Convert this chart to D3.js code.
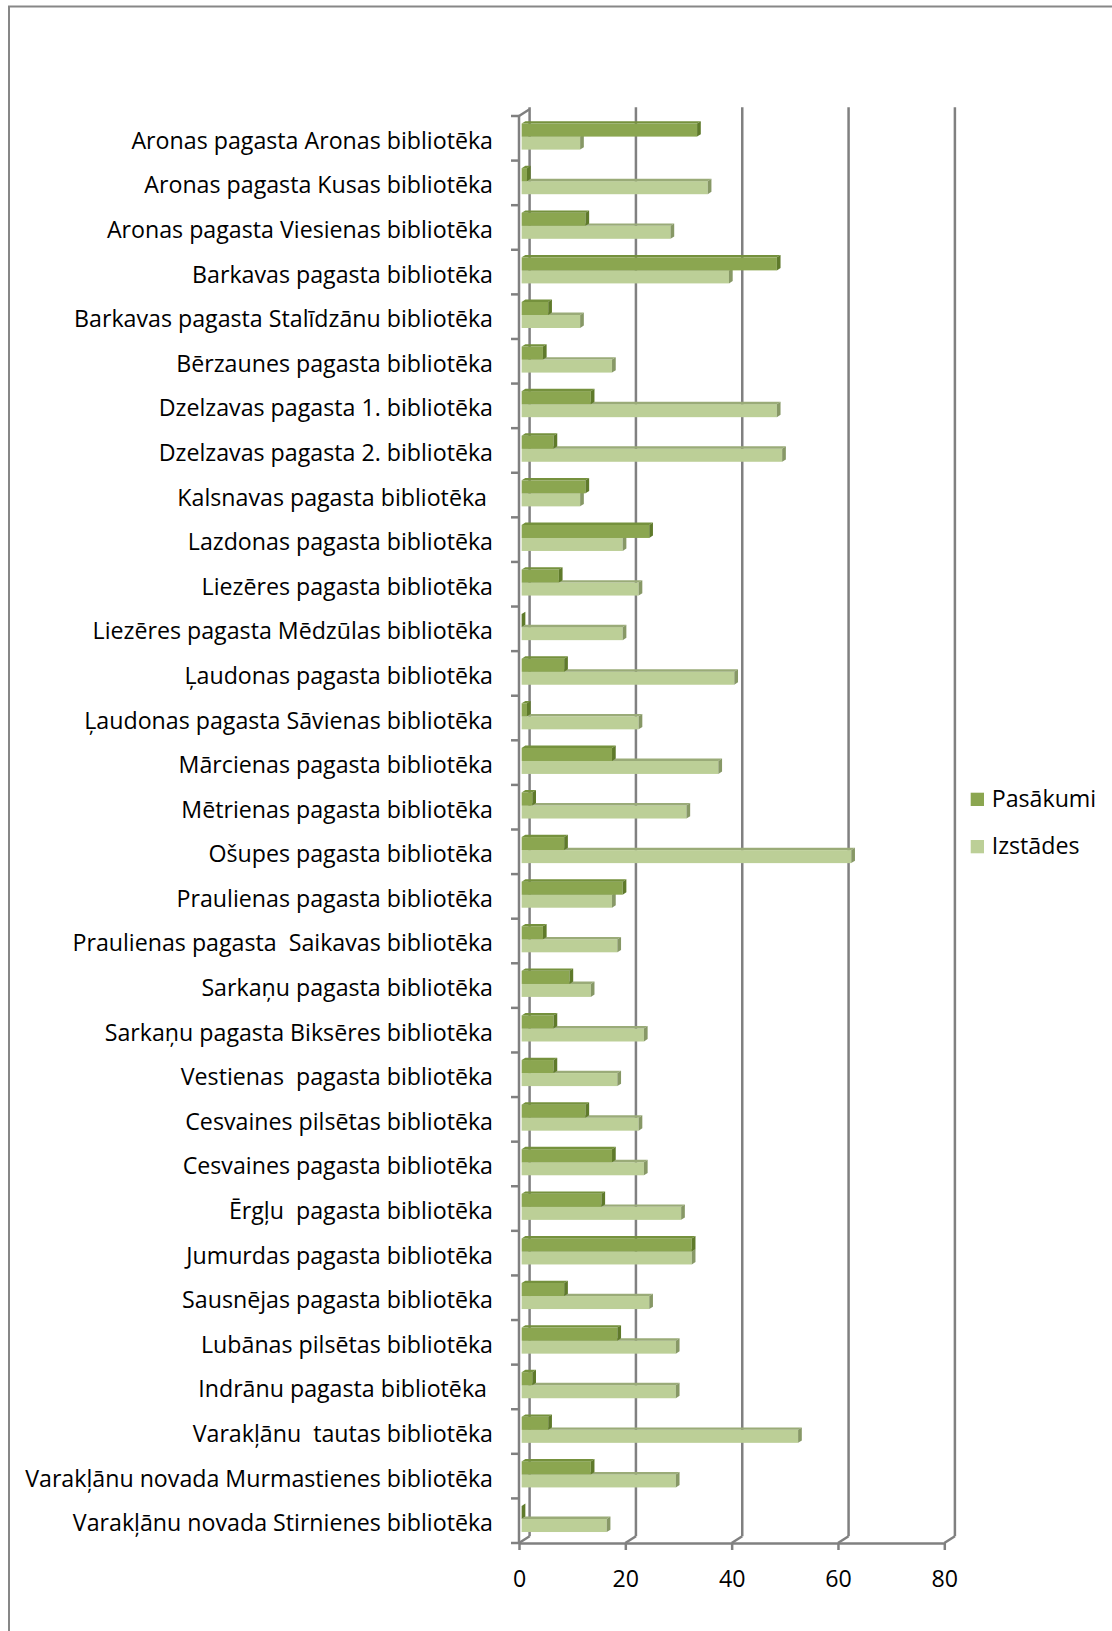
<!DOCTYPE html>
<html>
<head>
<meta charset="utf-8">
<script src="https://cdn.jsdelivr.net/npm/d3@7"></script>
<style>
body { margin: 0; background: #fff; }
text { font-family: "Open Sans", Lato, sans-serif; font-size: 23.2px; fill: #000; }
</style>
</head>
<body>
<script>
// data
var categories = [
    "Aronas pagasta Aronas bibliotēka",
    "Aronas pagasta Kusas bibliotēka",
    "Aronas pagasta Viesienas bibliotēka",
    "Barkavas pagasta bibliotēka",
    "Barkavas pagasta Stalīdzānu bibliotēka",
    "Bērzaunes pagasta bibliotēka",
    "Dzelzavas pagasta 1. bibliotēka",
    "Dzelzavas pagasta 2. bibliotēka",
    "Kalsnavas pagasta bibliotēka ",
    "Lazdonas pagasta bibliotēka",
    "Liezēres pagasta bibliotēka",
    "Liezēres pagasta Mēdzūlas bibliotēka",
    "Ļaudonas pagasta bibliotēka",
    "Ļaudonas pagasta Sāvienas bibliotēka",
    "Mārcienas pagasta bibliotēka",
    "Mētrienas pagasta bibliotēka",
    "Ošupes pagasta bibliotēka",
    "Praulienas pagasta bibliotēka",
    "Praulienas pagasta  Saikavas bibliotēka",
    "Sarkaņu pagasta bibliotēka",
    "Sarkaņu pagasta Biksēres bibliotēka",
    "Vestienas  pagasta bibliotēka",
    "Cesvaines pilsētas bibliotēka",
    "Cesvaines pagasta bibliotēka",
    "Ērgļu  pagasta bibliotēka",
    "Jumurdas pagasta bibliotēka",
    "Sausnējas pagasta bibliotēka",
    "Lubānas pilsētas bibliotēka",
    "Indrānu pagasta bibliotēka ",
    "Varakļānu  tautas bibliotēka",
    "Varakļānu novada Murmastienes bibliotēka",
    "Varakļānu novada Stirnienes bibliotēka"
];
var pasakumi = [33, 1, 12, 48, 5, 4, 13, 6, 12, 24, 7, 0, 8, 1, 17, 2,
                8, 19, 4, 9, 6, 6, 12, 17, 15, 32, 8, 18, 2, 5, 13, 0];
var izstades = [11, 35, 28, 39, 11, 17, 48, 49, 11, 19, 22, 19, 40, 22, 37, 31,
                62, 17, 18, 13, 23, 18, 22, 23, 30, 32, 24, 29, 29, 52, 29, 16];
var seriesNames = ["Pasākumi", "Izstādes"];
var xTicks = [0, 20, 40, 60, 80];

var width = 1112, height = 1631;
var plot = {left: 519, right: 944.3, top: 116, bottom: 1543};
var depth = {dx: 10.6, dy: -6.8};
var f0 = 0.25, f1 = 0.6; // bar front / back position inside the depth
var gridColor = "#808080";
var colors = {
    "Pasākumi": {front: "#8ba650", top: "#75913d", side: "#5f7a2b"},
    "Izstādes": {front: "#bccf97", top: "#9aab78", side: "#879866"}
};

const svg = d3.select("body")
    .append("svg")
    .attr("width", width)
    .attr("height", height);

// outer frame
svg.append("rect")
    .attr("x", 9).attr("y", 6.5)
    .attr("width", 1200).attr("height", 1700)
    .attr("fill", "none")
    .attr("stroke", "#878787")
    .attr("stroke-width", 2);

var xscale = d3.scaleLinear()
    .domain([0, 80])
    .range([plot.left, plot.right]);

var yscale = d3.scaleBand()
    .domain(categories)
    .range([plot.top, plot.bottom])
    .paddingInner(0.416)
    .paddingOuter(0.208);

var ysub = d3.scaleBand()
    .domain(seriesNames)
    .range([0, yscale.bandwidth()]);

var step = yscale.step();
var edge = c => yscale(c) - step * yscale.paddingOuter();

// back wall gridlines + floor diagonals
var grid = svg.append("g")
    .attr("stroke", gridColor)
    .attr("stroke-width", 2.5)
    .attr("fill", "none");

xTicks.forEach(function(t) {
    var x = xscale(t);
    grid.append("line")
        .attr("x1", x + depth.dx).attr("x2", x + depth.dx)
        .attr("y1", plot.top + depth.dy - 2).attr("y2", plot.bottom + depth.dy);
    grid.append("line")
        .attr("x1", x).attr("y1", plot.bottom)
        .attr("x2", x + depth.dx).attr("y2", plot.bottom + depth.dy);
});

// left wall
grid.append("line")
    .attr("x1", plot.left).attr("x2", plot.left)
    .attr("y1", plot.top).attr("y2", plot.bottom);
grid.append("line")
    .attr("x1", plot.left).attr("y1", plot.top)
    .attr("x2", plot.left + depth.dx).attr("y2", plot.top + depth.dy);

// category ticks between the bands
var bounds = categories.map(edge).concat([plot.bottom]);
grid.selectAll(".ytick")
    .data(bounds)
    .join("line")
    .attr("x1", plot.left - 8).attr("x2", plot.left)
    .attr("y1", d => d).attr("y2", d => d);

// x-axis
var xAxis = svg.append("g")
    .attr("transform", `translate(0,${plot.bottom})`)
    .call(d3.axisBottom(xscale).tickValues(xTicks).tickSize(7).tickSizeOuter(0));
xAxis.select(".domain").attr("stroke", gridColor).attr("stroke-width", 2.5);
xAxis.selectAll(".tick line").attr("stroke", gridColor).attr("stroke-width", 2.5);
xAxis.selectAll(".tick text")
    .attr("y", 44)
    .attr("dy", null)
    .style("font-size", "23.2px")
    .style("font-family", "'Open Sans', Lato, sans-serif")
    .attr("fill", "#000");

// category labels
svg.append("g")
    .selectAll("text")
    .data(categories)
    .join("text")
    .attr("x", 493)
    .attr("y", d => yscale(d) + yscale.bandwidth() / 2 + 10.5)
    .attr("text-anchor", "end")
    .style("white-space", "pre")
    .text(d => d);

// 3d bars
var values = {"Pasākumi": pasakumi, "Izstādes": izstades};
var ddx = (f1 - f0) * depth.dx, ddy = (f1 - f0) * depth.dy;
var bars = svg.append("g");

categories.forEach(function(c, i) {
    seriesNames.slice().reverse().forEach(function(s) {
        var v = values[s][i];
        var x0 = xscale(0) + f0 * depth.dx;
        var x1 = xscale(v) + f0 * depth.dx;
        var y0 = yscale(c) + ysub(s) + f0 * depth.dy;
        var h = ysub.bandwidth();
        var col = colors[s];
        var g = bars.append("g");
        g.append("rect")
            .attr("x", x0).attr("y", y0)
            .attr("width", x1 - x0).attr("height", h)
            .attr("fill", col.front);
        g.append("polygon")
            .attr("points", [[x0, y0], [x1, y0], [x1 + ddx, y0 + ddy], [x0 + ddx, y0 + ddy]].join(" "))
            .attr("fill", col.top);
        g.append("polygon")
            .attr("points", [[x1, y0], [x1 + ddx, y0 + ddy], [x1 + ddx, y0 + h + ddy], [x1, y0 + h]].join(" "))
            .attr("fill", col.side);
    });
});

// legend
var legend = svg.append("g");
seriesNames.forEach(function(s, i) {
    legend.append("rect")
        .attr("x", 970.7).attr("y", 792.7 + i * 47.3)
        .attr("width", 13.3).attr("height", 13.3)
        .attr("fill", colors[s].front);
    legend.append("text")
        .attr("x", 991.7).attr("y", 806.7 + i * 47.3)
        .text(s);
});
</script>
</body>
</html>
